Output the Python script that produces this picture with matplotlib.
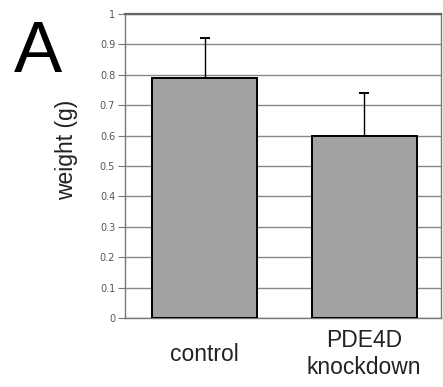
import matplotlib
matplotlib.use('Agg')
import matplotlib.pyplot as plt

groups = ['control', 'PDE4D\nknockdown']
weight = [0.79, 0.60]
err_up = [0.13, 0.14]
yticks = [0, 0.1, 0.2, 0.3, 0.4, 0.5, 0.6, 0.7, 0.8, 0.9, 1]
ytick_labels = ['0', '0.1', '0.2', '0.3', '0.4', '0.5', '0.6', '0.7', '0.8', '0.9', '1']

fig = plt.figure(figsize=(4.43, 3.87), dpi=100)
ax = fig.add_axes([0.282, 0.178, 0.713, 0.786])

x = list(range(len(groups)))
ax.bar(x, weight, width=0.66, color='#a3a3a3', edgecolor='black', linewidth=1.4, zorder=3)
ax.errorbar(x, weight, yerr=[[0, 0], err_up], fmt='none', ecolor='black',
            elinewidth=1.0, capsize=3.5, capthick=1.4, zorder=2)

ax.set_xlim(-0.5, 1.48)
ax.set_ylim(0, 1)
ax.set_yticks(yticks)
ax.set_yticklabels(ytick_labels, fontsize=7, color='#555555', family='DejaVu Sans')
ax.set_xticks(x)
ax.set_xticklabels(groups, fontsize=16.5, family='Liberation Sans', color='#222222',
                   va='center', linespacing=1.2)
ax.tick_params(axis='x', length=0, pad=26)
ax.tick_params(axis='y', length=5, width=0.8, color='#777777', pad=2)
ax.yaxis.grid(True, color='#888888', linewidth=1.0, zorder=0)
ax.set_axisbelow(True)

for side in ['left', 'right', 'bottom']:
    ax.spines[side].set_color('#777777')
    ax.spines[side].set_linewidth(1.0)
ax.spines['top'].set_color('#666666')
ax.spines['top'].set_linewidth(1.6)

fig.text(0.151, 0.613, 'weight (g)', rotation=90, fontsize=16.5, family='Liberation Sans',
         ha='center', va='center', color='#222222')
fig.text(0.086, 0.862, 'A', fontsize=52, family='Liberation Sans', ha='center', va='center')

fig.savefig('out.png', dpi=100)
